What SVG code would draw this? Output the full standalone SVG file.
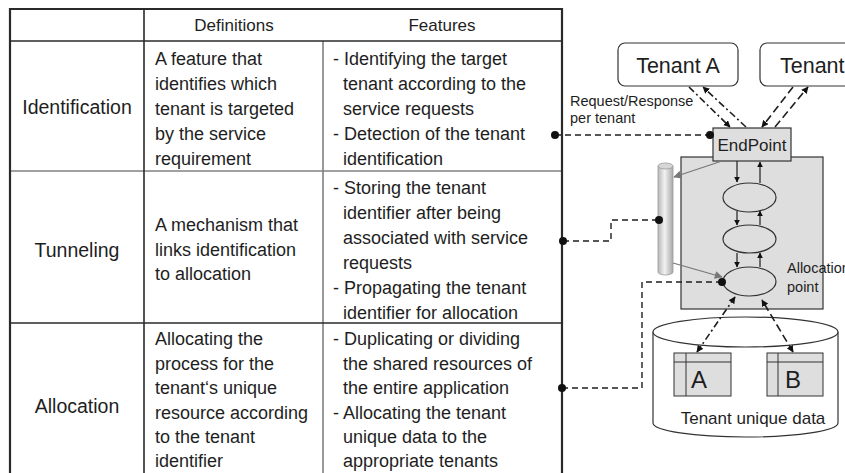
<svg xmlns="http://www.w3.org/2000/svg" width="845" height="473" viewBox="0 0 845 473">
  <style>
    text { font-family: "Liberation Sans", Arial, sans-serif; fill: #1e1e1e; }
    .hd { font-size: 17px; text-anchor: middle; }
    .lbl { font-size: 19.5px; text-anchor: middle; }
    .body { font-size: 18px; }
    .dark { stroke: #2a2a2a; stroke-width: 1.6; fill: none; }
    .grey { stroke: #808080; stroke-width: 1.6; fill: none; }
    .dash { stroke: #1e1e1e; stroke-width: 1.4; fill: none; stroke-dasharray: 6 4; }
    .dashdot { stroke: #1e1e1e; stroke-width: 1.6; fill: none; stroke-dasharray: 7 3 2 3; }
    .ldash { stroke: #1e1e1e; stroke-width: 1.6; fill: none; stroke-dasharray: 8 4; }
    .solid { stroke: #1e1e1e; stroke-width: 1.2; fill: none; }
    .gline { stroke: #777; stroke-width: 1.2; fill: none; }
    .dot { fill: #111; }
    .box { fill: #dedede; stroke: #333; stroke-width: 1.2; }
    .tenant { fill: #fff; stroke: #333; stroke-width: 1.2; }
    .big { font-size: 21.5px; text-anchor: middle; }
    .small { font-size: 14.5px; }
  </style>
  <defs>
    <marker id="ah" viewBox="0 0 10 10" refX="9" refY="5" markerWidth="7" markerHeight="7" orient="auto-start-reverse" markerUnits="userSpaceOnUse">
      <path d="M0,0 L10,5 L0,10 z" fill="#111"/>
    </marker>
    <marker id="ahs" viewBox="0 0 10 10" refX="9" refY="5" markerWidth="6" markerHeight="6" orient="auto" markerUnits="userSpaceOnUse">
      <path d="M0,0 L10,5 L0,10 z" fill="#111"/>
    </marker>
    <marker id="ahg" viewBox="0 0 10 10" refX="9" refY="5" markerWidth="9" markerHeight="8" orient="auto" markerUnits="userSpaceOnUse">
      <path d="M0,0 L10,5 L0,10 z" fill="#777"/>
    </marker>
    <linearGradient id="pipe" x1="0" y1="0" x2="1" y2="0">
      <stop offset="0" stop-color="#b8b8b8"/>
      <stop offset="0.45" stop-color="#f2f2f2"/>
      <stop offset="1" stop-color="#a8a8a8"/>
    </linearGradient>
  </defs>

  <!-- table grid -->
  <g id="table">
    <path class="grey" d="M323,41 V473"/>
    <path class="grey" d="M10,171 H562"/>
    <path class="dark" d="M144,9 V473"/>
    <path class="dark" d="M10,41 H562"/>
    <path class="dark" d="M10,323 H562"/>
    <path d="M10,473 V9 H562 V473" fill="none" stroke="#2a2a2a" stroke-width="2.2"/>
  </g>

  <!-- header row -->
  <g id="header">
    <text class="hd" x="234" y="31">Definitions</text>
    <text class="hd" x="442" y="31">Features</text>
  </g>

  <!-- identification row -->
  <g id="row-identification">
    <text class="lbl" x="77" y="114">Identification</text>
    <text class="body" x="155" y="65">A feature that</text>
    <text class="body" x="155" y="90">identifies which</text>
    <text class="body" x="155" y="115">tenant is targeted</text>
    <text class="body" x="155" y="140">by the service</text>
    <text class="body" x="155" y="165">requirement</text>
    <text class="body" x="333" y="65">- Identifying the target</text>
    <text class="body" x="343" y="90">tenant according to the</text>
    <text class="body" x="343" y="115">service requests</text>
    <text class="body" x="333" y="140">- Detection of the tenant</text>
    <text class="body" x="343" y="165">identification</text>
  </g>

  <!-- tunneling row -->
  <g id="row-tunneling">
    <text class="lbl" x="77" y="257">Tunneling</text>
    <text class="body" x="155" y="231">A mechanism that</text>
    <text class="body" x="155" y="256">links identification</text>
    <text class="body" x="155" y="280">to allocation</text>
    <text class="body" x="333" y="194">- Storing the tenant</text>
    <text class="body" x="343" y="219">identifier after being</text>
    <text class="body" x="343" y="244">associated with service</text>
    <text class="body" x="343" y="269">requests</text>
    <text class="body" x="333" y="294">- Propagating the tenant</text>
    <text class="body" x="343" y="319">identifier for allocation</text>
  </g>

  <!-- allocation row -->
  <g id="row-allocation">
    <text class="lbl" x="77" y="413">Allocation</text>
    <text class="body" x="155" y="345">Allocating the</text>
    <text class="body" x="155" y="369.5">process for the</text>
    <text class="body" x="155" y="394">tenant‘s unique</text>
    <text class="body" x="155" y="418.5">resource according</text>
    <text class="body" x="155" y="443">to the tenant</text>
    <text class="body" x="155" y="467">identifier</text>
    <text class="body" x="333" y="345">- Duplicating or dividing</text>
    <text class="body" x="343" y="369.5">the shared resources of</text>
    <text class="body" x="343" y="394">the entire application</text>
    <text class="body" x="333" y="418.5">- Allocating the tenant</text>
    <text class="body" x="343" y="443">unique data to the</text>
    <text class="body" x="343" y="467">appropriate tenants</text>
  </g>

  <!-- application container -->
  <g id="app">
    <rect class="box" x="681" y="157" width="142" height="152"/>
  </g>

  <!-- tenant unique data store -->
  <g id="datastore">
    <path d="M653,332 V423 A92.5,14 0 0 0 838,423 V332" fill="#fff" stroke="#333" stroke-width="1.2"/>
    <ellipse cx="745.5" cy="332" rx="92.5" ry="15" fill="#fff" stroke="#333" stroke-width="1.2"/>
    <text x="753" y="424" font-size="17" text-anchor="middle">Tenant unique data</text>
  </g>

  <g id="data-a">
    <rect x="674" y="353" width="57" height="43" fill="#dedede" stroke="#333" stroke-width="1"/>
    <path d="M674,362 H731 M686,353 V396" stroke="#333" stroke-width="1" fill="none"/>
    <text x="699" y="388" font-size="24" text-anchor="middle">A</text>
  </g>
  <g id="data-b">
    <rect x="767" y="353" width="56" height="43" fill="#dedede" stroke="#333" stroke-width="1"/>
    <path d="M767,362 H823 M778,353 V396" stroke="#333" stroke-width="1" fill="none"/>
    <text x="793" y="388" font-size="24" text-anchor="middle">B</text>
  </g>

  <!-- tenants -->
  <g id="tenant-a">
    <rect class="tenant" x="618" y="43" width="120" height="43" rx="7"/>
    <text class="big" x="678" y="73">Tenant A</text>
  </g>
  <g id="tenant-b">
    <rect class="tenant" x="760" y="43" width="120" height="43" rx="7"/>
    <text x="780" y="73" font-size="21.5">Tenant B</text>
  </g>

  <!-- endpoint -->
  <g id="endpoint">
    <rect class="box" x="713" y="128" width="78" height="33"/>
    <text x="752" y="151" font-size="17" text-anchor="middle">EndPoint</text>
  </g>

  <!-- processing stages -->
  <g id="stage-1"><ellipse class="box" cx="749.5" cy="197.5" rx="26.5" ry="14.5"/></g>
  <g id="stage-2"><ellipse class="box" cx="749.5" cy="239" rx="26.5" ry="14"/></g>
  <g id="stage-3"><ellipse class="box" cx="749.5" cy="281.5" rx="26.5" ry="14.5"/></g>

  <!-- tenant identifier pipe -->
  <g id="pipe">
    <path d="M658,166 V272 A7.5,3 0 0 0 673,272 V166" fill="url(#pipe)" stroke="#999" stroke-width="0.8"/>
    <ellipse cx="665.5" cy="166" rx="7.5" ry="3" fill="#d6d6d6" stroke="#999" stroke-width="0.8"/>
  </g>

  <!-- labels -->
  <g id="labels">
    <text class="small" x="570" y="106">Request/Response</text>
    <text class="small" x="570" y="123">per tenant</text>
    <text class="small" x="787" y="273">Allocation</text>
    <text class="small" x="787" y="292">point</text>
  </g>

  <!-- connectors -->
  <g id="connectors">
    <!-- tenant traffic -->
    <path class="dashdot" d="M689,87 L730,127" marker-end="url(#ah)"/>
    <path class="dashdot" d="M746,127 L703,87" marker-end="url(#ah)"/>
    <path class="ldash" d="M793,87 L762,127" marker-end="url(#ah)"/>
    <path class="ldash" d="M775,127 L808,87" marker-end="url(#ah)"/>

    <!-- flow between endpoint and stages -->
    <path class="solid" d="M737,161 V182" marker-end="url(#ahs)"/>
    <path class="solid" d="M760,183 V162" marker-end="url(#ahs)"/>
    <path class="solid" d="M737,211 V225" marker-end="url(#ahs)"/>
    <path class="solid" d="M760,225 V211" marker-end="url(#ahs)"/>
    <path class="solid" d="M737,253 V267" marker-end="url(#ahs)"/>
    <path class="solid" d="M760,267 V253" marker-end="url(#ahs)"/>

    <!-- identifier into and out of the pipe -->
    <path class="gline" d="M722,161 L674,177" marker-end="url(#ahg)"/>
    <path class="gline" d="M673,263 L722,277" marker-end="url(#ahg)"/>

    <!-- data access -->
    <path class="dashdot" d="M697,352 L735,297" marker-start="url(#ah)" marker-end="url(#ah)"/>
    <path class="ldash" d="M793,352 L762,300" marker-start="url(#ah)" marker-end="url(#ah)"/>

    <!-- links from table rows -->
    <path class="dash" d="M555,135 H710"/>
    <circle class="dot" cx="555" cy="135" r="4"/>
    <circle class="dot" cx="710" cy="135" r="4"/>

    <path class="dash" d="M563,241 H611 V220 H659"/>
    <circle class="dot" cx="563" cy="241" r="4"/>
    <circle class="dot" cx="659" cy="220" r="4"/>

    <path class="dash" d="M562,388 H642 V282 H722"/>
    <circle class="dot" cx="562" cy="388" r="4"/>
    <circle class="dot" cx="722" cy="282" r="4"/>
  </g>
</svg>
